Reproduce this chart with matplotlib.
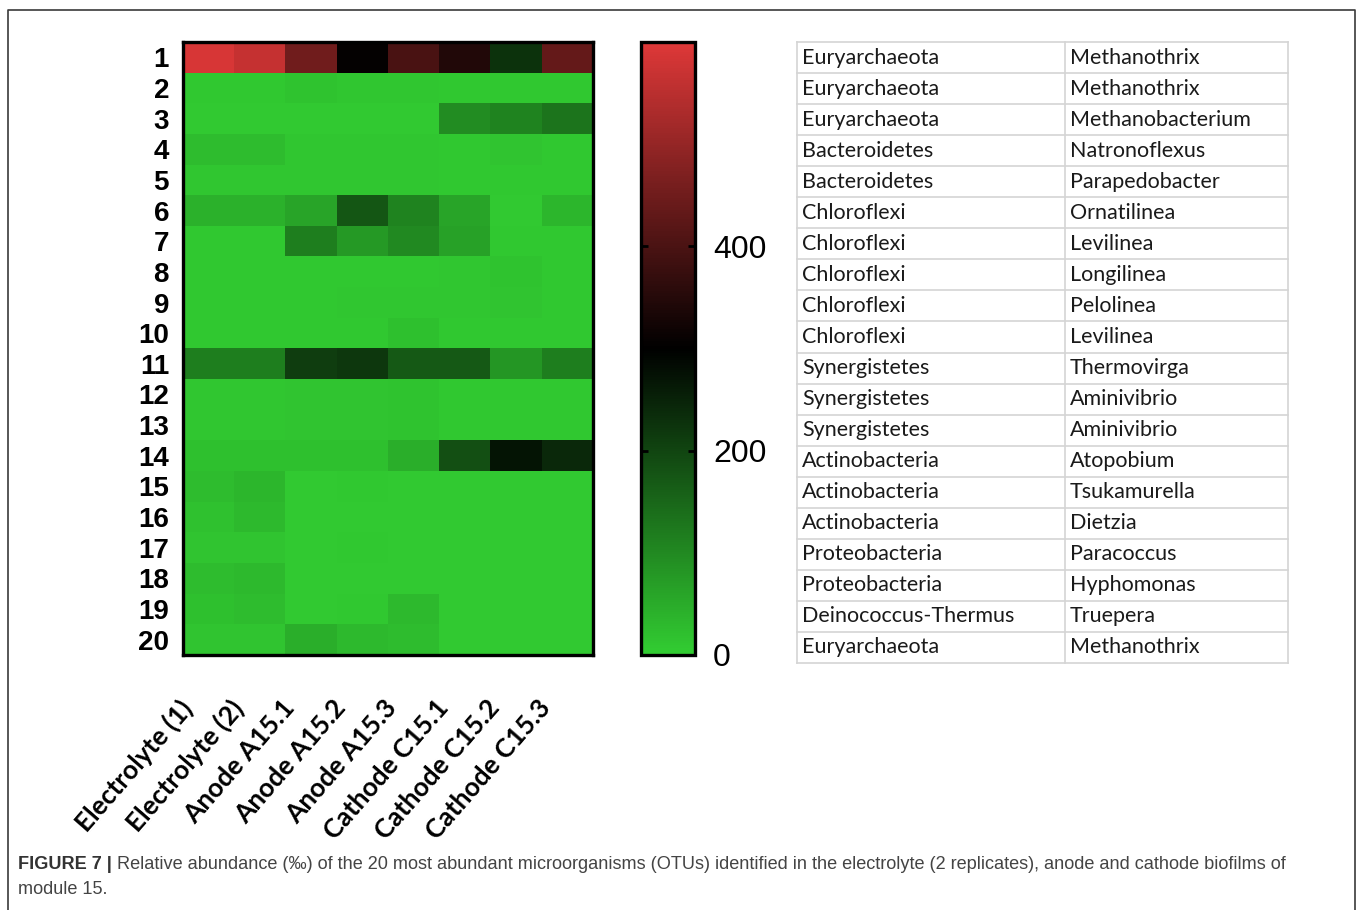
import matplotlib
matplotlib.use("Agg")
import matplotlib.pyplot as plt
import numpy as np
from matplotlib.colors import LinearSegmentedColormap
from matplotlib.lines import Line2D
from matplotlib.transforms import ScaledTranslation

# ---------------- data ----------------
samples = ["Electrolyte (1)", "Electrolyte (2)", "Anode A15.1", "Anode A15.2",
           "Anode A15.3", "Cathode C15.1", "Cathode C15.2", "Cathode C15.3"]
otu_labels = [str(i) for i in range(1, 21)]

# relative abundance (per mille), rows = OTU 1..20, cols = samples
abundance = [
    [590, 565, 450, 305, 400, 345, 225, 435],   # 1
    [8, 8, 15, 10, 10, 8, 8, 8],                # 2
    [6, 6, 6, 6, 6, 95, 110, 130],              # 3
    [25, 25, 10, 10, 10, 8, 14, 8],             # 4
    [10, 10, 10, 10, 10, 8, 8, 8],              # 5
    [40, 40, 60, 175, 110, 60, 6, 35],          # 6
    [8, 8, 115, 75, 100, 65, 8, 8],             # 7
    [8, 8, 8, 8, 8, 10, 15, 8],                 # 8
    [8, 8, 8, 10, 10, 10, 12, 8],               # 9
    [8, 8, 8, 8, 20, 8, 8, 8],                  # 10
    [115, 115, 210, 220, 170, 170, 80, 115],    # 11
    [10, 10, 12, 12, 15, 8, 8, 8],              # 12
    [10, 10, 12, 12, 15, 8, 8, 8],              # 13
    [20, 20, 20, 20, 45, 185, 270, 240],        # 14
    [25, 35, 6, 8, 5, 5, 5, 5],                 # 15
    [18, 30, 6, 6, 5, 5, 5, 5],                 # 16
    [12, 14, 6, 8, 5, 5, 5, 5],                 # 17
    [25, 30, 6, 6, 5, 5, 5, 5],                 # 18
    [20, 25, 6, 8, 30, 5, 5, 5],                # 19
    [12, 12, 45, 30, 25, 5, 5, 5],              # 20
]

cbar_ticks = [0, 200, 400]
vmin, vmax = 0, 600

phyla = ["Euryarchaeota", "Euryarchaeota", "Euryarchaeota", "Bacteroidetes",
         "Bacteroidetes", "Chloroflexi", "Chloroflexi", "Chloroflexi",
         "Chloroflexi", "Chloroflexi", "Synergistetes", "Synergistetes",
         "Synergistetes", "Actinobacteria", "Actinobacteria", "Actinobacteria",
         "Proteobacteria", "Proteobacteria", "Deinococcus-Thermus", "Euryarchaeota"]
genera = ["Methanothrix", "Methanothrix", "Methanobacterium", "Natronoflexus",
          "Parapedobacter", "Ornatilinea", "Levilinea", "Longilinea",
          "Pelolinea", "Levilinea", "Thermovirga", "Aminivibrio",
          "Aminivibrio", "Atopobium", "Tsukamurella", "Dietzia",
          "Paracoccus", "Hyphomonas", "Truepera", "Methanothrix"]

caption_bold = "FIGURE 7 | "
caption_rest = ("Relative abundance (‰) of the 20 most abundant microorganisms (OTUs) identified "
                "in the electrolyte (2 replicates), anode and cathode biofilms of")
caption_line2 = "module 15."

# ---------------- figure ----------------
W, H = 1358, 910
fig = plt.figure(figsize=(W / 100, H / 100), dpi=100)
fig.patch.set_facecolor("white")

def fx(px):
    return px / W

def fy(py):
    return 1 - py / H

cmap = LinearSegmentedColormap.from_list(
    "gbr", [(0.0, "#32CD32"), (0.5, "#000000"), (1.0, "#DE3838")])

# heatmap
ax = fig.add_axes([fx(183), fy(655), fx(593) - fx(183), fy(42) - fy(655)])
data = np.array(abundance, dtype=float)
im = ax.imshow(data, cmap=cmap, vmin=vmin, vmax=vmax, aspect="auto",
               interpolation="nearest")
ax.set_yticks(range(len(otu_labels)))
ax.set_yticklabels(otu_labels, fontsize=20, fontweight="bold",
                   family=["Liberation Sans", "DejaVu Sans"])
ax.set_xticks(range(len(samples)))
ax.set_xticklabels(samples, rotation=49, ha="right", va="top",
                   rotation_mode="anchor", fontsize=19, fontweight="bold",
                   family=["Lato", "DejaVu Sans"])
ax.tick_params(axis="both", length=0)
ax.tick_params(axis="y", pad=10)
ax.tick_params(axis="x", pad=29)
shift = ScaledTranslation(-30 / 100, 0, fig.dpi_scale_trans)
for lab in ax.get_xticklabels():
    lab.set_transform(lab.get_transform() + shift)
for s in ax.spines.values():
    s.set_linewidth(2.4)
    s.set_color("black")

# colorbar
cax = fig.add_axes([fx(641), fy(655), fx(695) - fx(641), fy(42) - fy(655)])
cb = fig.colorbar(im, cax=cax, ticks=cbar_ticks)
cb.outline.set_linewidth(2.4)
cb.outline.set_edgecolor("black")
cax.yaxis.set_ticks_position("both")
cax.tick_params(axis="y", direction="in", length=5, width=2, color="black",
                labelright=True, labelleft=False, labelsize=23, pad=13)
for lab in cax.get_yticklabels():
    lab.set_family(["Liberation Sans", "DejaVu Sans"])

# table
tx0, tx1, tsplit = 797, 1288, 1065
ty0, ty1 = 42, 663
tax = fig.add_axes([fx(tx0), fy(ty1), fx(tx1) - fx(tx0), fy(ty0) - fy(ty1)])
tax.set_xlim(tx0, tx1)
tax.set_ylim(len(phyla), 0)
tax.axis("off")
gc = "#d4d4d4"
for i in range(len(phyla) + 1):
    tax.plot([tx0, tx1], [i, i], color=gc, lw=1.2, clip_on=False)
for xv in (tx0, tsplit, tx1):
    tax.plot([xv, xv], [0, len(phyla)], color=gc, lw=1.2, clip_on=False)
for i, (p, g) in enumerate(zip(phyla, genera)):
    tax.text(tx0 + 5, i + 0.5, p, va="center", ha="left", fontsize=15.5,
             color="#1a1a1a", family=["Lato", "DejaVu Sans"])
    tax.text(tsplit + 5, i + 0.5, g, va="center", ha="left", fontsize=15.5,
             color="#1a1a1a", family=["Lato", "DejaVu Sans"])

# outer frame
fc = "#3a3a3a"
fig.add_artist(Line2D([fx(8), fx(8), fx(1355), fx(1355)],
                      [0, fy(10), fy(10), 0], color=fc, lw=1.2,
                      transform=fig.transFigure))

# caption
cap_font = ["Liberation Sans", "DejaVu Sans"]
t1 = fig.text(fx(18), fy(869), caption_bold, fontsize=13.1, fontweight="bold",
              color="#333333", family=cap_font, va="baseline", ha="left")
fig.canvas.draw()
r = fig.canvas.get_renderer()
bb = t1.get_window_extent(r)
fig.text(bb.x1 / W, fy(869), caption_rest, fontsize=13.1, color="#444444",
         family=cap_font, va="baseline", ha="left")
fig.text(fx(18), fy(894), caption_line2, fontsize=13.1, color="#444444",
         family=cap_font, va="baseline", ha="left")

fig.savefig("out.png", dpi=100, facecolor="white")
